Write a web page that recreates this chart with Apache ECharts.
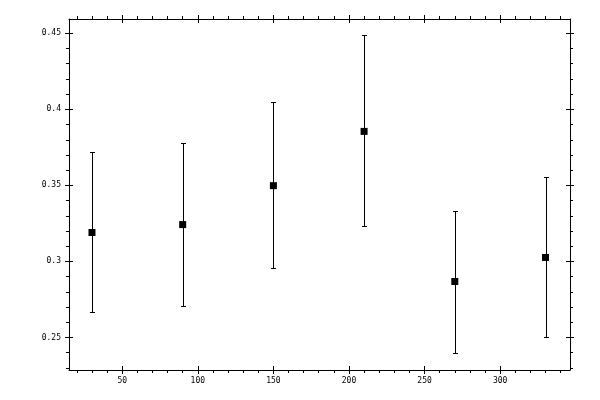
<!DOCTYPE html>
<html><head><meta charset="utf-8">
<script src="https://cdn.jsdelivr.net/npm/echarts@6/dist/echarts.min.js"></script>
<style>html,body{margin:0;padding:0;background:#fff}#c{width:600px;height:400px}</style>
</head><body><div id="c"></div>
<script>
// ---- data ----
const xValues = [30, 90, 150, 210, 270, 330];
const yValues = [0.3190, 0.3242, 0.3498, 0.3855, 0.2868, 0.3026];
const yLow    = [0.2666, 0.2707, 0.2956, 0.3230, 0.2395, 0.2500];
const yHigh   = [0.3721, 0.3780, 0.4048, 0.4487, 0.3333, 0.3553];
const xMajorTicks = [50, 100, 150, 200, 250, 300];
const xMinorTicks = [20,30,40,60,70,80,90,110,120,130,140,160,170,180,190,210,220,230,240,260,270,280,290,310,320,330,340];
const yMajorTicks = [0.25, 0.3, 0.35, 0.4, 0.45];
const yMinorTicks = [0.23,0.24,0.26,0.27,0.28,0.29,0.31,0.32,0.33,0.34,0.36,0.37,0.38,0.39,0.41,0.42,0.43,0.44];
const X_MIN = 14.8, X_MAX = 346.2;
const Y_MIN = 0.2286, Y_MAX = 0.4594;

const FONT = {fontFamily: 'DejaVu Sans Mono', fontSize: 8, color: '#000'};

function axis(kind, pos, ticks, len, inside, withLine, withLabels) {
  return {
    type: 'value', position: pos, gridIndex: 0,
    min: kind === 'x' ? X_MIN : Y_MIN,
    max: kind === 'x' ? X_MAX : Y_MAX,
    splitLine: {show: false},
    axisLine: {show: withLine, onZero: false, lineStyle: {color: '#000', width: 1}},
    axisTick: {show: true, inside: inside, length: len, customValues: ticks, lineStyle: {color: '#000', width: 1}},
    axisLabel: withLabels
      ? Object.assign({show: true, customValues: ticks, margin: kind === 'x' ? 7 : 8}, FONT)
      : {show: false},
    silent: true
  };
}

const xAxes = [
  axis('x', 'bottom', xMajorTicks, 4, false, true, true),
  axis('x', 'bottom', xMajorTicks, 4, true, false, false),
  axis('x', 'bottom', xMinorTicks, 3, false, false, false),
  axis('x', 'top', xMajorTicks, 4, false, true, false),
  axis('x', 'top', xMajorTicks, 4, true, false, false),
  axis('x', 'top', xMinorTicks, 3, false, false, false)
];
const yAxes = [
  axis('y', 'left', yMajorTicks, 4, false, true, true),
  axis('y', 'left', yMajorTicks, 4, true, false, false),
  axis('y', 'left', yMinorTicks, 3, false, false, false),
  axis('y', 'right', yMajorTicks, 4, false, true, false),
  axis('y', 'right', yMajorTicks, 4, true, false, false),
  axis('y', 'right', yMinorTicks, 3, false, false, false)
];

const points = xValues.map((x, i) => [x, yValues[i]]);
const bars = xValues.map((x, i) => [x, yLow[i], yHigh[i]]);

const chart = echarts.init(document.getElementById('c'), null, {renderer: 'canvas'});
chart.setOption({
  animation: false,
  backgroundColor: '#fff',
  grid: {left: 69, right: 30, top: 19, bottom: 30, containLabel: false},
  xAxis: xAxes,
  yAxis: yAxes,
  series: [
    {
      type: 'custom', xAxisIndex: 0, yAxisIndex: 0, z: 2,
      data: bars, silent: true,
      renderItem: function (params, api) {
        const x = api.value(0), lo = api.value(1), hi = api.value(2);
        const pHi = api.coord([x, hi]);
        const pLo = api.coord([x, lo]);
        const cx = Math.round(pHi[0]) + 0.5;
        const yh = Math.round(pHi[1]) + 0.5;
        const yl = Math.round(pLo[1]) + 0.5;
        const w = 2;
        const st = {stroke: '#000', lineWidth: 1};
        return {type: 'group', children: [
          {type: 'line', shape: {x1: cx, y1: yh, x2: cx, y2: yl}, style: st},
          {type: 'line', shape: {x1: cx - w - 0.5, y1: yh, x2: cx + w + 0.5, y2: yh}, style: st},
          {type: 'line', shape: {x1: cx - w - 0.5, y1: yl, x2: cx + w + 0.5, y2: yl}, style: st}
        ]};
      }
    },
    {
      type: 'scatter', xAxisIndex: 0, yAxisIndex: 0, z: 3,
      data: points, symbol: 'rect', symbolSize: 7, silent: true,
      itemStyle: {color: '#000', opacity: 1}
    }
  ]
});
</script>
</body></html>
